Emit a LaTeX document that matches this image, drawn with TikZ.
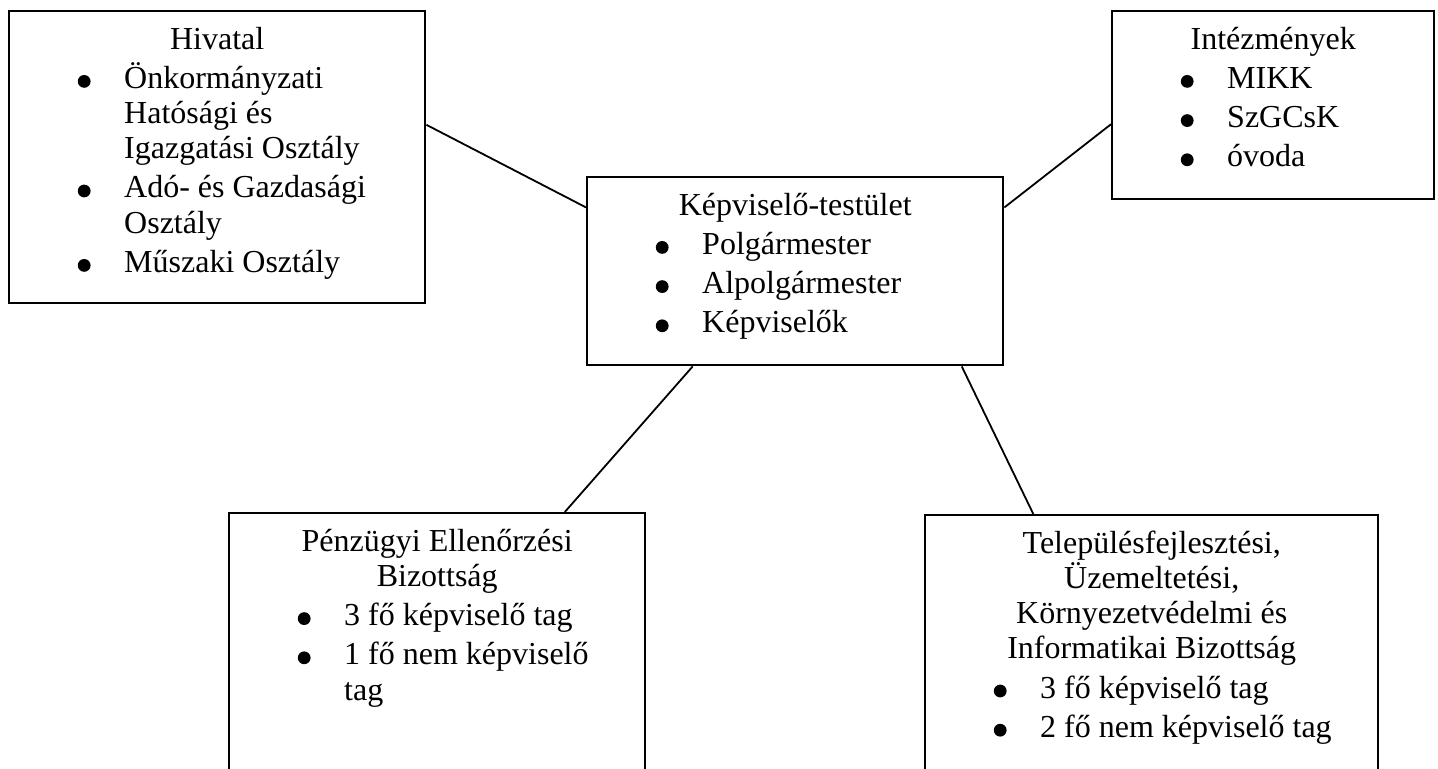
\documentclass[tikz,border=0pt]{standalone}
\usepackage{fontspec}
\setmainfont{Liberation Serif}
\usetikzlibrary{calc}

\newcommand{\cimsor}[1]{{\centering\rule{0pt}{19pt}#1\par}}
\newcommand{\golyo}{\tikz[baseline=0pt]\fill (0,3.5pt) circle (3.2pt);}
\newcommand{\pont}[1]{\par\noindent\hangindent=57.5pt\hangafter=1\hspace*{34.3pt}\makebox[23.2pt][l]{\golyo}#1\par}
\newcommand{\doboz}[3]{\parbox[t][#2][t]{#1}{\parskip=2pt #3}}

\begin{document}
\begin{tikzpicture}[x=0.5pt,y=-0.5pt]
    \tikzset{orgbox/.style={draw,line width=1.2pt,inner sep=0pt,anchor=north west,
        font=\fontsize{16pt}{17.6pt}\selectfont},
      kapcsolat/.style={line width=0.9pt}}
    \useasboundingbox (0,0) rectangle (1438,769);

    \node[orgbox] (hivatal) at (8,10) {\doboz{208pt}{146pt}{%
      \cimsor{Hivatal}
      \pont{Önkormányzati\newline Hatósági és\newline Igazgatási Osztály}
      \pont{Adó- és Gazdasági\newline Osztály}
      \pont{Műszaki Osztály}}};
    \node[orgbox] (intezmenyek) at (1111,10) {\doboz{161pt}{94pt}{%
      \cimsor{Intézmények}
      \pont{MIKK}
      \pont{SzGCsK}
      \pont{óvoda}}};
    \node[orgbox] (testulet) at (586,176) {\doboz{208pt}{94pt}{%
      \cimsor{Képviselő-testület}
      \pont{Polgármester}
      \pont{Alpolgármester}
      \pont{Képviselők}}};
    \node[orgbox] (penzugy) at (228,512) {\doboz{208pt}{150pt}{%
      \cimsor{Pénzügyi Ellenőrzési\\Bizottság}
      \pont{3 fő képviselő tag}
      \pont{1 fő nem képviselő\newline tag}}};
    \node[orgbox] (telepules) at (924,514) {\doboz{226.5pt}{150pt}{%
      \cimsor{Településfejlesztési,\\Üzemeltetési,\\Környezetvédelmi és\\Informatikai Bizottság}
      \pont{3 fő képviselő tag}
      \pont{2 fő nem képviselő tag}}};

    \draw[kapcsolat] ($(hivatal.north east)!0.39!(hivatal.south east)$)
      -- ($(testulet.north west)!0.165!(testulet.south west)$);
    \draw[kapcsolat] ($(intezmenyek.north west)!0.6!(intezmenyek.south west)$)
      -- ($(testulet.north east)!0.165!(testulet.south east)$);
    \draw[kapcsolat] ($(testulet.south west)!0.255!(testulet.south east)$)
      -- ($(penzugy.north west)!0.805!(penzugy.north east)$);
    \draw[kapcsolat] ($(testulet.south west)!0.898!(testulet.south east)$)
      -- ($(telepules.north west)!0.24!(telepules.north east)$);
\end{tikzpicture}
\end{document}
